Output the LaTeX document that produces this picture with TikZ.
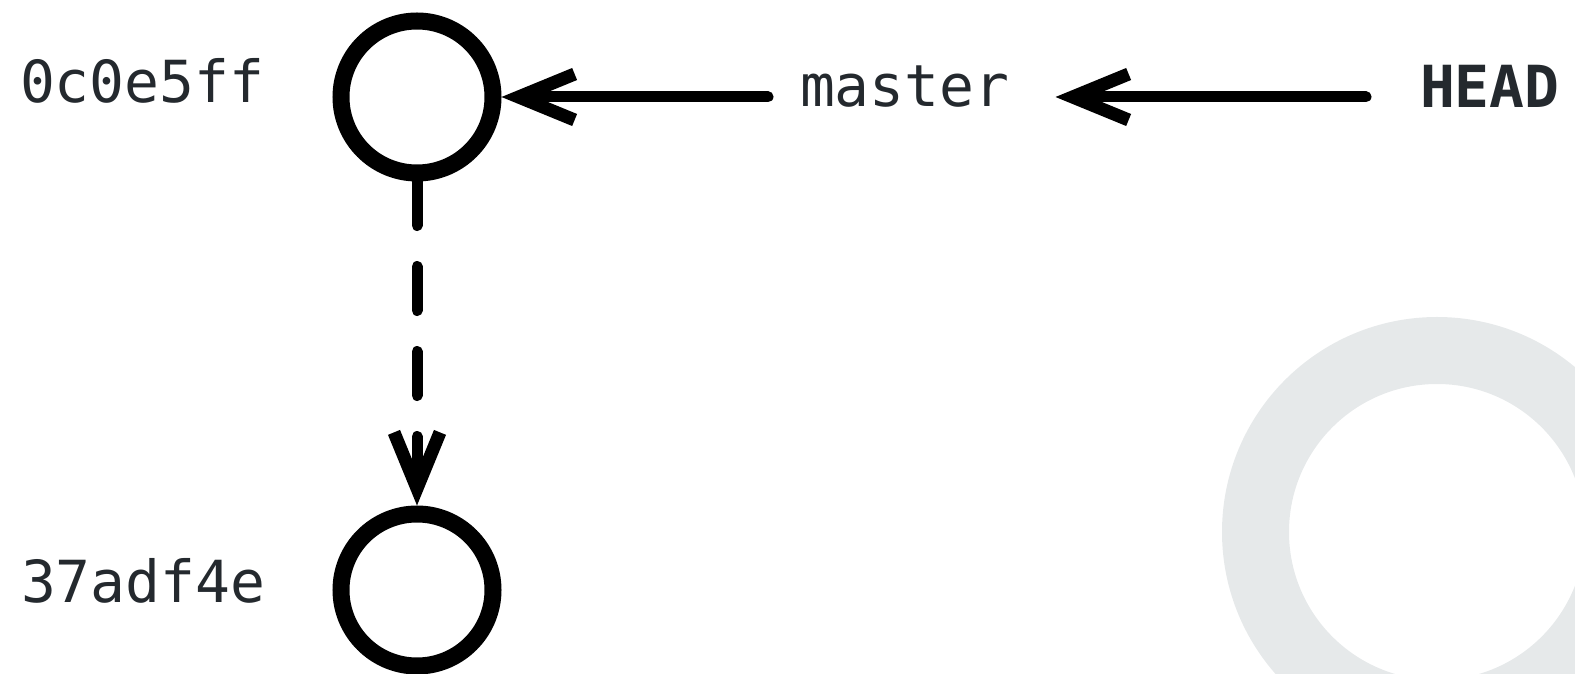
\documentclass[tikz,border=0pt]{standalone}
\usepackage{fontspec}
\setmonofont{DejaVu Sans Mono}
\usetikzlibrary{arrows.meta}
\definecolor{txt}{HTML}{24292E}
\definecolor{ringgrey}{HTML}{E6E9EA}
\begin{document}
\begin{tikzpicture}[x=0.5bp,y=-0.5bp,
  commit/.style={circle, draw=black, line width=8.5bp, minimum size=76bp, inner sep=0pt},
  lbl/.style={font=\fontsize{29bp}{35bp}\selectfont\ttfamily, text=txt, inner sep=0pt, outer sep=0pt, anchor=base west},
  ptr/.style={line width=5.5bp, line cap=round, -{Straight Barb[sharp, length=28bp, width=23bp, line width=6.5bp]}},
]
\useasboundingbox (0,0) rectangle (1575,674);
\clip (0,0) rectangle (1575,674);
\draw[ringgrey, line width=33.5bp] (1437,532) circle[radius=90.75bp];
\node[commit] (c1) at (417,97) {};
\node[commit] (c2) at (417,590) {};
\node[lbl] (h1) at (20,103) {0c0e5ff};
\node[lbl] (h2) at (21,602) {37adf4e};
\node[lbl] (master) at (800,107) {master};
\node[lbl, font=\fontsize{29bp}{35bp}\selectfont\ttfamily\bfseries] (head) at (1420,108) {HEAD};
\draw[ptr, dash pattern=on 22bp off 20.5bp] (c1.south) -- (c2.north);
\draw[ptr, shorten <=16bp] (master.west |- c1) -- (c1.east);
\draw[ptr, shorten <=27bp, shorten >=23bp] (head.west |- c1) -- (master.east |- c1);
\end{tikzpicture}
\end{document}
